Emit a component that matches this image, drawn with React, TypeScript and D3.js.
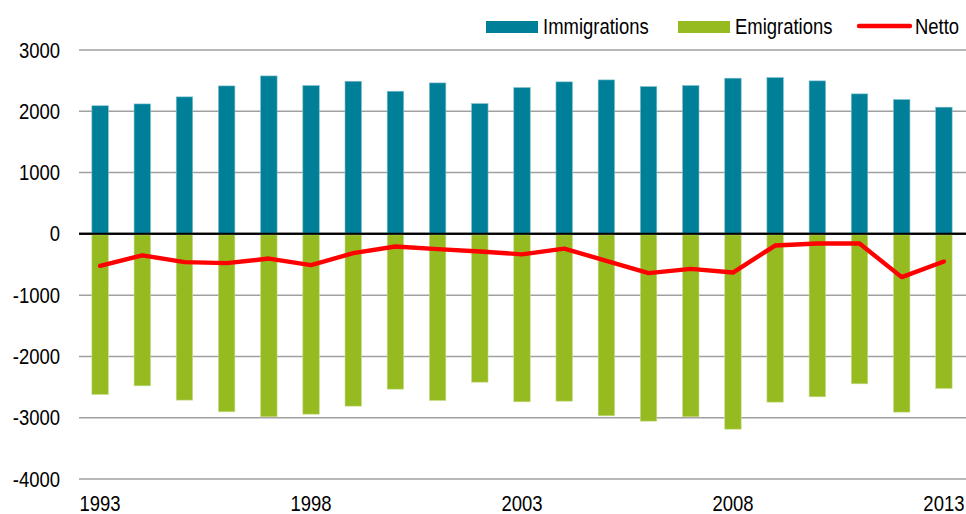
import React from "react";
import * as d3 from "d3";

const years: number[] = [1993, 1994, 1995, 1996, 1997, 1998, 1999, 2000, 2001, 2002, 2003, 2004, 2005, 2006, 2007, 2008, 2009, 2010, 2011, 2012, 2013];
const immigrations: number[] = [2090, 2120, 2235, 2414, 2577, 2420, 2490, 2327, 2463, 2125, 2387, 2480, 2512, 2403, 2420, 2540, 2550, 2496, 2284, 2191, 2067];
const emigrations: number[] = [-2621, -2480, -2713, -2904, -2985, -2942, -2811, -2534, -2719, -2420, -2741, -2730, -2969, -3056, -2985, -3187, -2746, -2659, -2447, -2909, -2523];
const netto: number[] = [-522, -350, -462, -478, -403, -511, -315, -207, -250, -289, -334, -240, -440, -641, -571, -631, -191, -158, -158, -706, -452];
const yTicks: number[] = [3000, 2000, 1000, 0, -1000, -2000, -3000, -4000];
const xTickYears: number[] = [1993, 1998, 2003, 2008, 2013];
const legendLabels: string[] = ["Immigrations", "Emigrations", "Netto"];

const W = 966;
const H = 514;
const FONT = "'Liberation Sans', Arial, sans-serif";
const FS = 22;
const SX = 0.84;
const TEAL = "#007f98";
const GREEN = "#95bb20";
const RED = "#ff0000";

function CText(props: { x: number; y: number; anchor?: "start" | "middle" | "end"; children: React.ReactNode }) {
  const { x, y, anchor = "start", children } = props;
  return (
    <text
      transform={`translate(${x},${y}) scale(${SX},1)`}
      textAnchor={anchor}
      dominantBaseline="central"
      fontSize={FS}
      fill="#000"
    >
      {children}
    </text>
  );
}

export default function App() {
  const x = d3
    .scaleBand<number>()
    .domain(years)
    .range([79, 965])
    .paddingInner(0.61)
    .paddingOuter(0.305);
  const y = d3.scaleLinear().domain([-4000, 3000]).range([479, 50]);
  const bw = x.bandwidth();
  const cx = (yr: number) => (x(yr) as number) + bw / 2;

  const line = d3
    .line<number>()
    .x((_, i) => cx(years[i]))
    .y((d) => y(d));

  return (
    <svg
      width={W}
      height={H}
      style={{ position: "absolute", left: 0, top: 0, background: "#fff" }}
      fontFamily={FONT}
    >
      {yTicks.map((t) => (
        <line
          key={"g" + t}
          x1={79}
          x2={W}
          y1={y(t)}
          y2={y(t)}
          stroke={t === 0 ? "#000" : "#a0a0a0"}
          strokeWidth={t === 0 ? 2 : 1.5}
        />
      ))}
      {yTicks.map((t) => (
        <CText key={"yl" + t} x={60} y={y(t)} anchor="end">
          {t}
        </CText>
      ))}
      {years.map((yr, i) => (
        <rect
          key={"im" + yr}
          x={x(yr)}
          y={y(immigrations[i])}
          width={bw}
          height={y(0) - y(immigrations[i])}
          fill={TEAL}
          stroke="#7fbfcc"
          strokeWidth={0.6}
        />
      ))}
      {years.map((yr, i) => (
        <rect
          key={"em" + yr}
          x={x(yr)}
          y={y(0) + 1}
          width={bw}
          height={y(emigrations[i]) - y(0) - 1}
          fill={GREEN}
          stroke="#c9dd8f"
          strokeWidth={0.6}
        />
      ))}
      <line x1={79} x2={W} y1={y(0)} y2={y(0)} stroke="#000" strokeWidth={2} />
      <path
        d={line(netto) || ""}
        fill="none"
        stroke={RED}
        strokeWidth={4.4}
        strokeLinejoin="round"
        strokeLinecap="round"
      />
      {xTickYears.map((yr) => (
        <CText key={"xl" + yr} x={cx(yr)} y={503} anchor="middle">
          {yr}
        </CText>
      ))}
      <rect x={486} y={21} width={52} height={12} fill={TEAL} />
      <CText x={543} y={26}>{legendLabels[0]}</CText>
      <rect x={678} y={21} width={52} height={12} fill={GREEN} />
      <CText x={735} y={26}>{legendLabels[1]}</CText>
      <line x1={859} x2={910} y1={26} y2={26} stroke={RED} strokeWidth={4.4} strokeLinecap="round" />
      <CText x={915} y={26}>{legendLabels[2]}</CText>
    </svg>
  );
}
